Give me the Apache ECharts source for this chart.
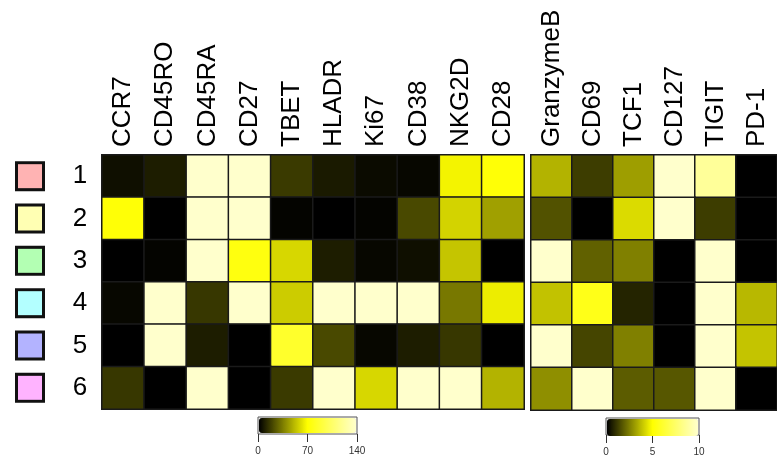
<!DOCTYPE html>
<html>
<head>
<meta charset="utf-8">
<script src="https://cdn.jsdelivr.net/npm/echarts@6/dist/echarts.min.js"></script>
<style>html,body{margin:0;padding:0;background:#fff;}#c{width:777px;height:457px;}</style>
</head>
<body>
<div id="c"></div>
<script>
var rows = ['1','2','3','4','5','6'];
var rowColors = ['#FFB3B3','#FFFFB3','#B3FFB3','#B3FFFF','#B3B3FF','#FFB3FF'];
var markersA = ['CCR7','CD45RO','CD45RA','CD27','TBET','HLADR','Ki67','CD38','NKG2D','CD28'];
var valuesA = [
  [4, 8, 140, 140, 16, 7, 3, 2, 67, 72],
  [72, 0, 140, 140, 1, 0, 1, 20, 58, 44],
  [0, 1, 140, 75, 59, 8, 2, 4, 54, 0],
  [2, 140, 15, 140, 56, 140, 140, 140, 33, 65],
  [0, 140, 8, 0, 85, 20, 2, 8, 15, 0],
  [15, 0, 140, 0, 16, 140, 59, 140, 140, 49]
];
var markersB = ['GranzymeB','CD69','TCF1','CD127','TIGIT','PD-1'];
var valuesB = [
  [3.5, 1.2, 3.1, 10, 8.75, 0],
  [1.6, 0, 4.3, 10, 1.2, 0],
  [10, 1.9, 2.5, 0, 10, 0],
  [3.8, 5.6, 0.7, 0, 10, 3.6],
  [10, 1.35, 2.5, 0, 10, 3.85],
  [2.8, 10, 1.8, 1.7, 10, 0]
];
var ticksA = [0, 70, 140];
var ticksB = [0, 5, 10];

function toCells(vals) {
  var out = [];
  vals.forEach(function (r, ri) { r.forEach(function (v, ci) { out.push([ci, ri, v]); }); });
  return out;
}
var FONT = "'Liberation Sans', Arial, sans-serif";
var rich = {
  n: { fontSize: 26, color: '#000', fontFamily: FONT, width: 16, align: 'center' },
  g: { width: 30 }
};
rowColors.forEach(function (c, i) {
  rich['s' + i] = { width: 24, height: 24, backgroundColor: c, borderColor: '#111', borderWidth: 3 };
});

var chart = echarts.init(document.getElementById('c'));
var colorRange = ['#000000', '#FFFF00', '#FFFFCC'];
var colLabel = { rotate: -90, interval: 0, fontSize: 26, color: '#000', fontFamily: FONT, margin: 8 };
chart.setOption({
  animation: false,
  backgroundColor: '#fff',
  grid: [
    { left: 102, top: 155, width: 422, height: 254, show: true, borderColor: '#000', borderWidth: 2, backgroundColor: 'transparent' },
    { left: 531, top: 155, width: 254, height: 255, show: true, borderColor: '#000', borderWidth: 2, backgroundColor: 'transparent' },
    { left: 258, top: 417, width: 99, height: 17, show: true, borderColor: '#555', borderWidth: 1, backgroundColor: 'transparent' },
    { left: 606, top: 418, width: 93, height: 19, show: true, borderColor: '#555', borderWidth: 1, backgroundColor: 'transparent' }
  ],
  xAxis: [
    { type: 'category', gridIndex: 0, position: 'top', data: markersA,
      axisLine: { show: false }, axisTick: { show: false }, splitLine: { show: false },
      axisLabel: colLabel },
    { type: 'category', gridIndex: 1, position: 'top', data: markersB,
      axisLine: { show: false }, axisTick: { show: false }, splitLine: { show: false },
      axisLabel: colLabel },
    { type: 'value', gridIndex: 2, min: ticksA[0], max: ticksA[2], interval: ticksA[1] - ticksA[0],
      axisLine: { show: false }, splitLine: { show: false },
      axisTick: { show: true, length: 8, lineStyle: { color: '#333' } },
      axisLabel: { fontSize: 10, color: '#333', fontFamily: FONT, margin: 12 } },
    { type: 'value', gridIndex: 3, min: ticksB[0], max: ticksB[2], interval: ticksB[1] - ticksB[0],
      axisLine: { show: false }, splitLine: { show: false },
      axisTick: { show: true, length: 8, lineStyle: { color: '#333' } },
      axisLabel: { fontSize: 10, color: '#333', fontFamily: FONT, margin: 12 } }
  ],
  yAxis: [
    { type: 'category', gridIndex: 0, data: rows, inverse: true,
      axisLine: { show: false }, axisTick: { show: false }, splitLine: { show: false },
      axisLabel: { margin: 14, formatter: function (v, i) { return '{s' + i + '|}{g|}{n|' + v + '}'; }, rich: rich } },
    { type: 'category', gridIndex: 1, data: rows, inverse: true,
      axisLine: { show: false }, axisTick: { show: false }, axisLabel: { show: false }, splitLine: { show: false } },
    { type: 'value', gridIndex: 2, show: false, min: 0, max: 1 },
    { type: 'value', gridIndex: 3, show: false, min: 0, max: 1 }
  ],
  visualMap: [
    { type: 'continuous', seriesIndex: 0, min: ticksA[0], max: ticksA[2], orient: 'horizontal',
      left: 259, top: 418, itemWidth: 15, itemHeight: 97, padding: 0, calculable: false,
      text: ['', ''], showLabel: false, inRange: { color: colorRange } },
    { type: 'continuous', seriesIndex: 1, min: ticksB[0], max: ticksB[2], orient: 'horizontal',
      left: 607, top: 419, itemWidth: 17, itemHeight: 91, padding: 0, calculable: false,
      text: ['', ''], showLabel: false, inRange: { color: colorRange } }
  ],
  series: [
    { type: 'heatmap', xAxisIndex: 0, yAxisIndex: 0, data: toCells(valuesA),
      itemStyle: { borderColor: '#1a1a1a', borderWidth: 1.5 } },
    { type: 'heatmap', xAxisIndex: 1, yAxisIndex: 1, data: toCells(valuesB),
      itemStyle: { borderColor: '#1a1a1a', borderWidth: 1.5 } }
  ]
});
</script>
</body>
</html>
